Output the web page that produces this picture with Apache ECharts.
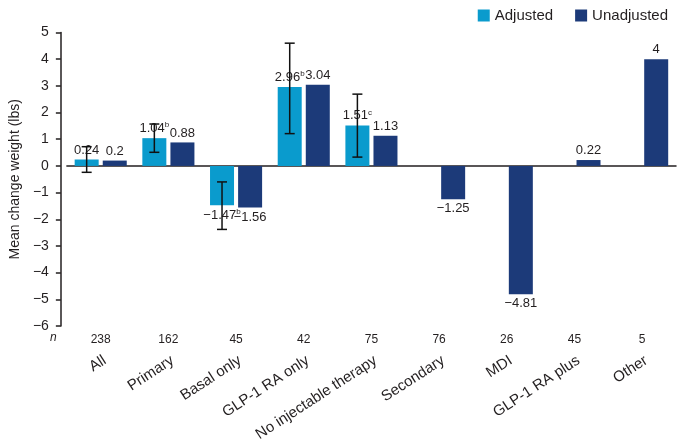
<!DOCTYPE html>
<html>
<head>
<meta charset="utf-8">
<script src="https://cdn.jsdelivr.net/npm/echarts@6/dist/echarts.min.js"></script>
<style>
html,body{margin:0;padding:0;background:#fff;}
#chart{width:685px;height:448px;}
</style>
</head>
<body>
<div id="chart"></div>
<script>
var categories = ['All', 'Primary', 'Basal only', 'GLP-1 RA only', 'No injectable therapy', 'Secondary', 'MDI', 'GLP-1 RA plus', 'Other'];
var nValues = ['238', '162', '45', '42', '75', '76', '26', '45', '5'];
var adjusted = [0.24, 1.04, -1.47, 2.96, 1.51, null, null, null, null];
var adjustedNotes = ['', 'b', 'b', 'b', 'c', '', '', '', ''];
var unadjusted = [0.2, 0.88, -1.56, 3.04, 1.13, -1.25, -4.81, 0.22, 4];
var errLow = [-0.24, 0.51, -2.38, 1.21, 0.33, null, null, null, null];
var errHigh = [0.72, 1.57, -0.60, 4.60, 2.69, null, null, null, null];

var FONT = 'Liberation Sans, Arial, sans-serif';
var TXT = '#231f20';
var BAR_W = 24;
var GAP_RATIO = 0.17;

function fmtNum(v) { return String(v).replace('-', '\u2212'); }

function barItems(arr) {
  return arr.map(function (v) {
    if (v === null) return null;
    return { value: v, label: { position: v < 0 ? 'bottom' : 'top' } };
  });
}

var errData = [];
for (var i = 0; i < categories.length; i++) {
  if (errLow[i] !== null) errData.push([i, errLow[i], errHigh[i]]);
}

var chart = echarts.init(document.getElementById('chart'), null, { renderer: 'canvas' });
var labelBase = { show: true, color: TXT, fontFamily: FONT, fontSize: 13, distance: 3 };

chart.setOption({
  animation: false,
  textStyle: { fontFamily: FONT },
  legend: {
    data: ['Adjusted', 'Unadjusted'],
    right: 12, top: 3,
    icon: 'rect', itemWidth: 12, itemHeight: 12, itemGap: 22,
    textStyle: { fontSize: 15, color: TXT, fontFamily: FONT }
  },
  grid: { left: 64, right: 9, top: 32.5, bottom: 122, containLabel: false },
  xAxis: [
    {
      type: 'category', data: categories, position: 'bottom',
      axisLine: { show: false, onZero: false }, axisTick: { show: false },
      axisLabel: { interval: 0, rotate: 33, margin: 27, verticalAlign: 'top', fontSize: 15, color: TXT, fontFamily: FONT }
    },
    {
      type: 'category', data: nValues, position: 'bottom',
      axisLine: { show: false, onZero: false }, axisTick: { show: false },
      axisLabel: { interval: 0, margin: 8, fontSize: 12, color: TXT, fontFamily: FONT }
    },
    {
      type: 'category', data: categories, position: 'bottom',
      axisLine: { show: true, onZero: true, lineStyle: { color: '#231f20', width: 1.5 } },
      axisTick: { show: false }, axisLabel: { show: false }
    }
  ],
  yAxis: {
    type: 'value', min: -6, max: 5, interval: 1, offset: 6,
    name: 'Mean change weight (lbs)', nameLocation: 'middle', nameGap: 36,
    nameTextStyle: { fontSize: 14, color: TXT, fontFamily: FONT },
    axisLine: { show: true, lineStyle: { color: '#231f20', width: 1.5 } },
    axisTick: { show: true, length: 5, lineStyle: { color: '#231f20', width: 1.5 } },
    splitLine: { show: false },
    axisLabel: { fontSize: 14, color: TXT, margin: 12, fontFamily: FONT, formatter: function (v) { return fmtNum(v); } }
  },
  series: [
    {
      name: 'Adjusted', type: 'bar', xAxisIndex: 0, data: barItems(adjusted),
      barWidth: BAR_W, barGap: (GAP_RATIO * 100) + '%',
      itemStyle: { color: '#0a9bcd' },
      label: Object.assign({}, labelBase, {
        formatter: function (p) {
          var note = adjustedNotes[p.dataIndex];
          return '{v|' + fmtNum(p.value) + '}' + (note ? '{s|' + note + '}' : '');
        },
        rich: {
          v: { fontSize: 13, color: TXT, fontFamily: FONT },
          s: { fontSize: 8, color: TXT, fontFamily: FONT, padding: [0, 0, 6, 0] }
        }
      })
    },
    {
      name: 'Unadjusted', type: 'bar', xAxisIndex: 0, data: barItems(unadjusted),
      barWidth: BAR_W,
      itemStyle: { color: '#1c3a79' },
      label: Object.assign({}, labelBase, {
        formatter: function (p) { return fmtNum(p.value); }
      })
    },
    {
      name: 'err', type: 'custom', xAxisIndex: 0, data: errData, z: 10,
      renderItem: function (params, api) {
        var off = -(BAR_W + BAR_W * GAP_RATIO) / 2;
        var lo = api.coord([api.value(0), api.value(1)]);
        var hi = api.coord([api.value(0), api.value(2)]);
        var x = lo[0] + off;
        var cap = 5;
        var st = { stroke: '#111', lineWidth: 1.5 };
        return {
          type: 'group',
          children: [
            { type: 'line', shape: { x1: x, y1: lo[1], x2: x, y2: hi[1] }, style: st },
            { type: 'line', shape: { x1: x - cap, y1: lo[1], x2: x + cap, y2: lo[1] }, style: st },
            { type: 'line', shape: { x1: x - cap, y1: hi[1], x2: x + cap, y2: hi[1] }, style: st }
          ]
        };
      }
    }
  ],
  graphic: [
    { type: 'text', left: 50, top: 332, style: { text: 'n', fontSize: 12, fontStyle: 'italic', fill: TXT, fontFamily: FONT } }
  ]
});
</script>
</body>
</html>
